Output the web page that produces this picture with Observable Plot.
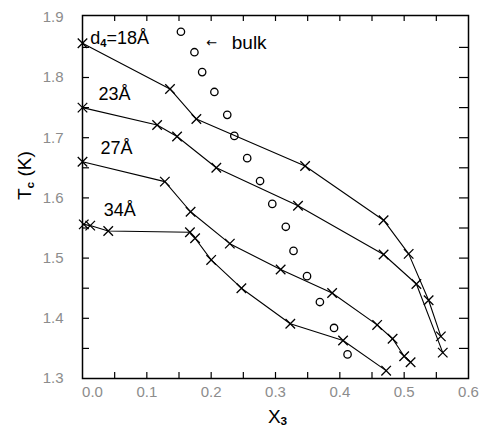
<!DOCTYPE html>
<html><head><meta charset="utf-8">
<script src="https://cdn.jsdelivr.net/npm/d3@7"></script>
<script src="https://cdn.jsdelivr.net/npm/@observablehq/plot@0.6"></script>
<style>body{margin:0;background:#fff} svg{display:block}</style>
</head><body><div id="chart"></div>
<script>
// Film series (x marks connected by lines)
const x18 = [0.0, 0.136, 0.177, 0.346, 0.468, 0.507, 0.538, 0.557];
const t18 = [1.857, 1.781, 1.731, 1.653, 1.563, 1.507, 1.430, 1.370];
const x23 = [0.0, 0.116, 0.147, 0.208, 0.335, 0.468, 0.519, 0.560];
const t23 = [1.750, 1.721, 1.702, 1.650, 1.587, 1.506, 1.457, 1.343];
const x27 = [0.0, 0.128, 0.168, 0.229, 0.308, 0.388, 0.458, 0.482, 0.500, 0.510];
const t27 = [1.660, 1.627, 1.577, 1.524, 1.481, 1.442, 1.389, 1.366, 1.337, 1.327];
const x34 = [0.002, 0.012, 0.040, 0.167, 0.175, 0.200, 0.247, 0.323, 0.405, 0.472];
const t34 = [1.556, 1.554, 1.545, 1.543, 1.533, 1.497, 1.450, 1.391, 1.363, 1.313];
// Bulk (open circles)
const bulkX = [0.153, 0.174, 0.186, 0.205, 0.225, 0.236, 0.256, 0.276, 0.295, 0.316, 0.328, 0.349, 0.369, 0.391, 0.412];
const bulkT = [1.876, 1.842, 1.809, 1.776, 1.738, 1.703, 1.666, 1.628, 1.590, 1.552, 1.512, 1.470, 1.427, 1.384, 1.340];
// Series labels
const labelText = ["d_4=18Å", "23Å", "27Å", "34Å"];
const labelX = [0.012, 0.025, 0.028, 0.033];
const labelY = [1.865, 1.773, 1.682, 1.579];
// Ticks
const xTickLabels = [0.1, 0.2, 0.3, 0.4, 0.5, 0.6];
const yTickLabels = [1.3, 1.4, 1.5, 1.6, 1.7, 1.8, 1.9];
const xMinor = d3.range(1, 12).map(i => +(i * 0.05).toFixed(2));
const yMinor = d3.range(1, 12).map(i => +(1.3 + i * 0.05).toFixed(2));

const rows = (name, xs, ts) => xs.map((x, i) => ({series: name, x, t: ts[i]}));
const films = [
  ...rows("18", x18, t18), ...rows("23", x23, t23),
  ...rows("27", x27, t27), ...rows("34", x34, t34)
];
const bulk = rows("bulk", bulkX, bulkT);
const labels = labelText.map((s, i) => ({s, x: labelX[i], t: labelY[i]}));

const W = 482, H = 431, mL = 82, mR = 14, mT = 15, mB = 53;
const fw = W - mL - mR, fh = H - mT - mB;

const plot = Plot.plot({
  width: W, height: H,
  marginLeft: mL, marginRight: mR, marginTop: mT, marginBottom: mB,
  x: {domain: [0, 0.6]},
  y: {domain: [1.3, 1.903]},
  style: {fontFamily: "'Liberation Sans', Arial, sans-serif", background: "#fff", color: "#000"},
  marks: [
    // inward ticks on all four sides
    Plot.tickY(yMinor, {y: d => d, insetRight: fw - 7, stroke: "#000", strokeWidth: 1.2}),
    Plot.tickY(yMinor, {y: d => d, insetLeft: fw - 9, stroke: "#000", strokeWidth: 1.2}),
    Plot.tickX(xMinor, {x: d => d, insetTop: fh - 6, stroke: "#000", strokeWidth: 1.2}),
    Plot.tickX(xMinor, {x: d => d, insetBottom: fh - 6, stroke: "#000", strokeWidth: 1.2}),
    Plot.frame({stroke: "#000", strokeWidth: 1.5}),
    Plot.axisY({anchor: "left", ticks: yTickLabels, tickSize: 0, tickPadding: 19, tickFormat: d => d.toFixed(1), fontSize: 15, color: "#8c8c8c", label: null}),
    Plot.axisX({anchor: "bottom", ticks: xTickLabels, tickSize: 0, tickPadding: 8, tickFormat: d => d.toFixed(1), fontSize: 15, color: "#8c8c8c", label: null}),
    Plot.axisX({anchor: "bottom", ticks: [0], tickSize: 0, tickPadding: 8, dx: 10, tickFormat: d => d.toFixed(1), fontSize: 15, color: "#8c8c8c", label: null}),
    Plot.line(films, {x: "x", y: "t", z: "series", stroke: "#000", strokeWidth: 1.1}),
    Plot.dot(films, {x: "x", y: "t", symbol: "times", r: 4.4, stroke: "#000", strokeWidth: 1.3}),
    Plot.dot(bulk, {x: "x", y: "t", r: 3.7, stroke: "#000", strokeWidth: 1.3, fill: "none"}),
    Plot.text(labels, {x: "x", y: "t", text: "s", textAnchor: "start", fontSize: 18, fill: "#000"}),
    Plot.text(["←"], {x: () => 0.201, y: () => 1.858, text: d => d, fontSize: 13, fontFamily: "DejaVu Sans", fill: "#000"}),
    Plot.text(["bulk"], {x: () => 0.232, y: () => 1.858, text: d => d, textAnchor: "start", fontSize: 19, fill: "#000"}),
    Plot.text(["T_c (K)"], {frameAnchor: "left", dx: -58, dy: 3, rotate: -90, text: d => d, fontSize: 19, fill: "#000"}),
    Plot.text(["X_3"], {frameAnchor: "bottom", dx: 2, dy: 44, text: d => d, fontSize: 19, fill: "#000"})
  ]
});

// turn "a_b" into subscripts
plot.querySelectorAll("text").forEach(el => {
  const s = el.textContent;
  if (!s.includes("_")) return;
  el.textContent = "";
  const ns = "http://www.w3.org/2000/svg";
  let i = 0;
  while (i < s.length) {
    if (s[i] === "_") {
      const t = document.createElementNS(ns, "tspan");
      t.setAttribute("font-size", "0.62em");
      t.setAttribute("font-weight", "bold");
      t.setAttribute("dy", "0.25em");
      t.textContent = s[i + 1];
      el.appendChild(t);
      i += 2;
      if (i < s.length) {
        const r = document.createElementNS(ns, "tspan");
        r.setAttribute("dy", "-0.155em");
        let j = s.indexOf("_", i); if (j < 0) j = s.length;
        r.textContent = s.slice(i, j);
        el.appendChild(r);
        i = j;
      }
    } else {
      let j = s.indexOf("_", i); if (j < 0) j = s.length;
      const r = document.createElementNS(ns, "tspan");
      r.textContent = s.slice(i, j);
      el.appendChild(r);
      i = j;
    }
  }
});
document.getElementById("chart").appendChild(plot);
</script>
</body></html>
